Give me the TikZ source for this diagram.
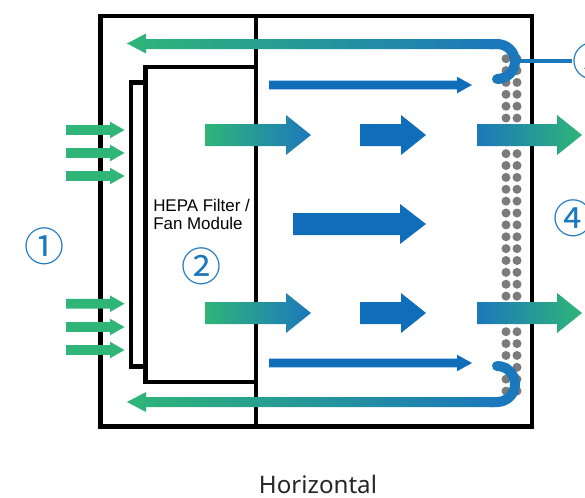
\documentclass[tikz,border=0pt]{standalone}
\usepackage{fontspec}
\setmainfont{Liberation Sans}
\newfontfamily\circfont{Noto Sans CJK JP}
\newfontfamily\capfont{Noto Sans}
\definecolor{ggreen}{HTML}{2FB577}
\definecolor{bblue}{HTML}{0F6DB9}
\definecolor{cblue}{HTML}{1C78BC}
\definecolor{dotgray}{HTML}{7B7B7B}
\newcommand\rarrowpath[6]{(#1,#4-#5) -- (#3,#4-#5) -- (#3,#4-#6) -- (#2,#4) -- (#3,#4+#6) -- (#3,#4+#5) -- (#1,#4+#5) -- cycle}
\tikzset{
  wall/.style={draw=black,line width=3.1pt,line join=miter},
  solidgreen/.style={fill=ggreen,draw=none},
  solidblue/.style={fill=bblue,draw=none},
  gb/.style={left color=ggreen,right color=cblue,draw=none},
  bg/.style={left color=cblue,right color=ggreen,draw=none},
  returnhook/.style={draw=cblue,line width=7.5pt,line cap=round},
  callout/.style={text=cblue,font=\circfont\fontsize{30}{30}\selectfont,inner sep=0pt},
  leader/.style={draw=cblue,line width=2.6pt},
  label/.style={font=\fontsize{12.7}{14}\selectfont,align=left,inner sep=0pt,text=black},
  pdot/.style={fill=dotgray,draw=none},
}
\begin{document}
\begin{tikzpicture}[x=0.75pt,y=-0.75pt]
\useasboundingbox (0,0) rectangle (585,497);
\clip (0,0) rectangle (585,497);
% housing
\draw[wall] (100.5,16) rectangle (532,426.5);
\draw[wall] (256,16) -- (256,426.5);
% filter
\draw[wall] (256,67) -- (145.5,67) -- (145.5,382) -- (256,382);
\draw[wall] (145.5,82.5) -- (131,82.5) -- (131,366.5) -- (145.5,366.5);
% diffuser dots
\foreach \k in {0,...,28}{
  \fill[pdot] (506,58.7+11.87*\k) circle (4.5);
  \fill[pdot] (517,58.7+11.87*\k) circle (4.5);
}
% inlet arrows
\foreach \yy in {130,153,176,303.7,327,350}{
  \fill[solidgreen] \rarrowpath{66}{124.5}{110}{\yy}{4.8}{8.3};
}
% supply arrows
\shade[gb] \rarrowpath{205}{311}{286}{135}{11}{20};
\shade[gb] \rarrowpath{205}{311}{286}{313}{11}{20};
\fill[solidblue] \rarrowpath{360}{426}{401}{135}{11}{20};
\fill[solidblue] \rarrowpath{360}{426}{401}{313}{11}{20};
\fill[solidblue] \rarrowpath{293}{426}{400}{224}{11}{20};
\shade[bg] \rarrowpath{477}{582}{557}{135}{11}{20};
\shade[bg] \rarrowpath{477}{582}{557}{313}{11}{20};
\fill[solidblue] \rarrowpath{269}{472}{457}{85}{4.3}{8.3};
\fill[solidblue] \rarrowpath{269}{472}{457}{363}{4.3}{8.3};
% return air
\draw[returnhook] (490,44) -- (497,44) arc[start angle=90,end angle=-90,x radius=18,y radius=-17.5] -- (497,79);
\draw[returnhook] (490,402) -- (497,402) arc[start angle=-90,end angle=90,x radius=18,y radius=-18] -- (497,366);
\shade[left color=ggreen,right color=cblue,draw=none] (127,43.5) -- (146,33.5) -- (146,39) -- (495,39) -- (495,49) -- (146,49) -- (146,53.5) -- cycle;
\shade[left color=ggreen,right color=cblue,draw=none] (127,402) -- (146,392) -- (146,397) -- (495,397) -- (495,407) -- (146,407) -- (146,412) -- cycle;
% labels
\node[callout] (one) at (44,246) {①};
\node[callout] (two) at (201,266) {②};
\node[callout] (three) at (592,61) {③};
\node[callout] (four) at (573,218) {④};
\coordinate (hook) at (520,61);
\draw[leader] (hook) -- (three.west);
\node[label,anchor=north west] (hepa) at (153,198.5) {HEPA Filter /\\Fan Module};
\node[font=\capfont\fontsize{18.1}{20}\selectfont,text=black!85,inner sep=0pt] (cap) at (318,484) {Horizontal};
\end{tikzpicture}
\end{document}
